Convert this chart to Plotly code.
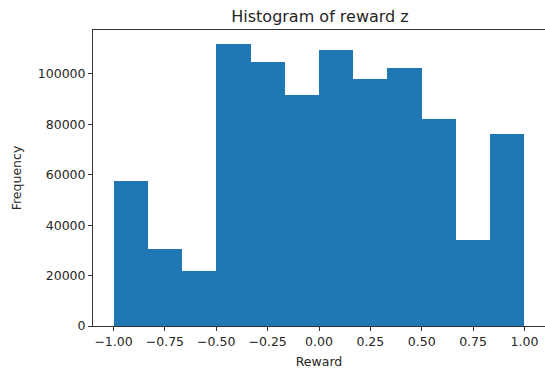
import numpy as np
import plotly.graph_objects as go

# Histogram of reward z: 12 equal bins over [-1, 1]
bin_edges = np.linspace(-1.0, 1.0, 13)
counts = [57700, 30400, 21800, 111800, 104800, 91800,
          109500, 97800, 102500, 82100, 34200, 76100]
x_ticks = [-1.0, -0.75, -0.5, -0.25, 0.0, 0.25, 0.5, 0.75, 1.0]
x_tick_labels = ["\u22121.00", "\u22120.75", "\u22120.50", "\u22120.25",
                 "0.00", "0.25", "0.50", "0.75", "1.00"]
y_ticks = [0, 20000, 40000, 60000, 80000, 100000]

centers = (bin_edges[:-1] + bin_edges[1:]) / 2
widths = np.diff(bin_edges)

font_family = "DejaVu Sans"
text_color = "#262626"

fig = go.Figure(
    go.Bar(
        x=centers,
        y=counts,
        width=widths,
        marker=dict(color="#1f77b4", line=dict(width=0)),
        hoverinfo="x+y",
    )
)

fig.update_layout(
    width=545,
    height=374,
    margin=dict(l=93, r=0, t=30, b=48),
    paper_bgcolor="white",
    plot_bgcolor="white",
    showlegend=False,
    bargap=0,
    font=dict(family=font_family, size=12.5, color=text_color),
    title=dict(
        text="Histogram of reward z",
        x=(93 + 547) / 2 / 545,
        xanchor="center",
        y=1 - 16 / 374,
        yanchor="middle",
        font=dict(family=font_family, size=16, color=text_color),
    ),
)

fig.update_xaxes(
    range=[-1.1, 1.1],
    tickmode="array",
    tickvals=x_ticks,
    ticktext=x_tick_labels,
    ticks="outside",
    ticklen=4,
    tickwidth=1,
    tickcolor="#333333",
    showline=True,
    linecolor="#333333",
    linewidth=1,
    mirror=True,
    showgrid=False,
    zeroline=False,
    title=dict(text="Reward", standoff=9, font=dict(size=12.5)),
)

fig.update_yaxes(
    range=[0, max(counts) * 1.05],
    tickmode="array",
    tickvals=y_ticks,
    tickformat="d",
    ticks="outside",
    ticklen=4,
    tickwidth=1,
    tickcolor="#333333",
    showline=True,
    linecolor="#333333",
    linewidth=1,
    showgrid=False,
    zeroline=False,
    title=dict(text="Frequency", standoff=13, font=dict(size=12.5)),
)

fig.write_html("out.html")
